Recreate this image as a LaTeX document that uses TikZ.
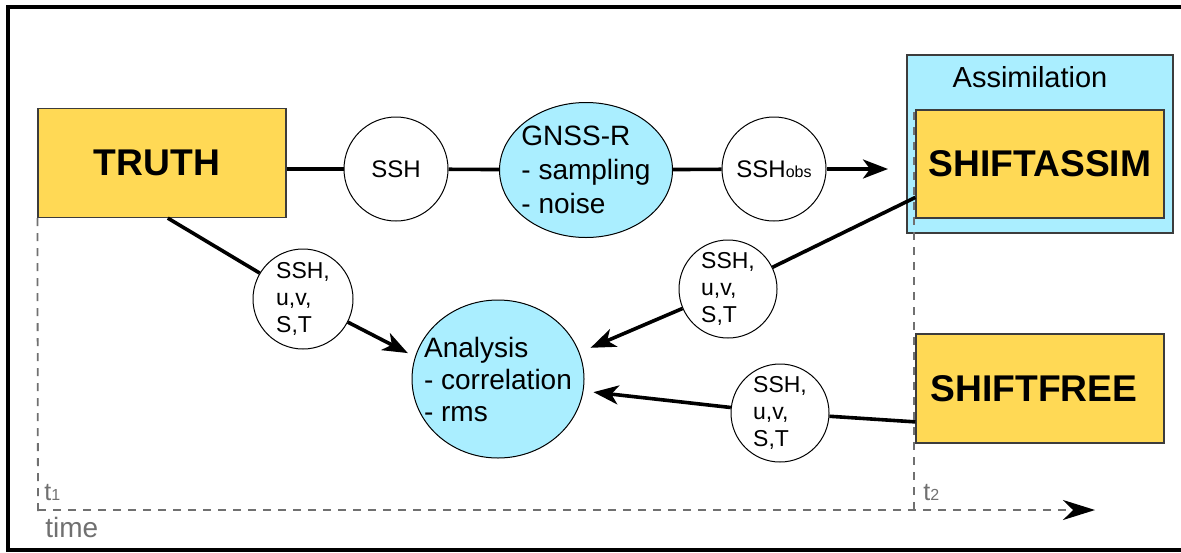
\documentclass[tikz,border=0pt]{standalone}
\usepackage{fontspec}
\setmainfont{Liberation Sans}
\usetikzlibrary{arrows.meta,shapes.geometric}
\definecolor{boxyellow}{RGB}{255,217,85}
\definecolor{lightblue}{RGB}{170,238,255}
\definecolor{axisgray}{RGB}{112,112,112}
\definecolor{edgegray}{RGB}{60,60,60}
\begin{document}
\begin{tikzpicture}[x=0.5pt,y=-0.5pt,
  modelbox/.style={draw=edgegray, line width=0.6pt, fill=boxyellow, minimum width=124pt, minimum height=54.5pt, inner sep=0pt, font=\fontsize{18.6}{20}\selectfont\bfseries},
  varcircle/.style={circle, draw=black, line width=0.5pt, fill=white, minimum size=49pt, inner sep=0pt, align=left, font=\fontsize{11.5}{13.5}\selectfont},
  procell/.style={ellipse, draw=black, line width=0.5pt, fill=lightblue, inner xsep=-10pt, inner ysep=-3pt, align=left},
  conn/.style={line width=1.8pt, black},
  arr/.style={conn, -{Stealth[length=12.5pt,width=9.5pt,inset=3.5pt]}},
  axis/.style={axisgray, line width=0.9pt, dash pattern=on 4pt off 3.5pt},
  axislabel/.style={text=axisgray, anchor=base west, inner sep=0pt, font=\fontsize{12.5}{14}\selectfont}
]
\useasboundingbox (0,0) rectangle (1181,552);
\draw[line width=2pt] (1190,6.5) -- (7.5,6.5) -- (7.5,549.5) -- (1190,549.5);

% boxes
\node[draw=edgegray, line width=0.6pt, fill=lightblue, minimum width=133pt, minimum height=89pt, inner sep=0pt] (assim) at (1040,144) {};
\node[anchor=base, inner sep=0pt, font=\fontsize{14.5}{16}\selectfont] (assimlabel) at (1030,87) {Assimilation};
\node[modelbox] (truth) at (162,163) {\hspace*{-5pt}TRUTH};
\node[modelbox, minimum height=54pt] (sa) at (1040,164) {SHIFTASSIM\rule{0pt}{0pt}};
\node[modelbox] (sf) at (1040,388.5) {\hspace*{-6pt}SHIFTFREE};

% circles and ellipses
\node[varcircle, minimum size=52pt, font=\fontsize{12}{14}\selectfont] (ssh) at (396,169) {SSH};
\node[procell, minimum width=86.5pt, minimum height=67.5pt, font=\fontsize{14}{17}\selectfont] (gnss) at (586,170) {GNSS-R\\- sampling\\- noise};
\node[varcircle, minimum size=52pt, font=\fontsize{12}{14}\selectfont] (obs) at (774,169) {SSH{\fontsize{8}{9}\selectfont obs}};
\node[varcircle, minimum size=50pt] (c1) at (303,299) {SSH,\\u,v,\\S,T};
\node[varcircle] (c2) at (728,289) {SSH,\\u,v,\\S,T};
\node[varcircle] (c3) at (780,413) {SSH,\\u,v,\\S,T};
\node[procell, minimum width=86pt, minimum height=79pt, font=\fontsize{14}{16}\selectfont] (ana) at (498,379) {Analysis\\- correlation\\- rms};

% connectors
\coordinate (obsend) at (888,169);
\draw[conn] (truth.east |- ssh) -- (ssh);
\draw[conn] (ssh) -- (gnss);
\draw[conn] (gnss) -- (obs);
\draw[arr] (obs) -- (obsend);
\draw[conn] (truth.-84) -- (c1);
\draw[arr, shorten >=4pt] (c1) -- (ana.165);
\draw[conn] (sa.195) -- (c2);
\draw[arr, shorten >=6pt] (c2) -- (ana.18);
\draw[conn] (sf.195) -- (c3);
\draw[arr, shorten >=5pt] (c3) -- (ana.-8);

% time axis
\coordinate (t1bot) at (38,515);
\coordinate (t2top) at (914,112);
\coordinate (t2bot) at (914,515);
\coordinate (tstart) at (38,510);
\coordinate (tend) at (1095,510);
\draw[axis] (truth.south west) -- (t1bot);
\draw[axis] (t2top) -- (t2bot);
\draw[axis, -{Stealth[black,length=16pt,width=10pt,inset=5pt]}] (tstart) -- (tend);
\node[axislabel] (t1) at (44,500) {t{\fontsize{8}{9}\selectfont 1}};
\node[axislabel] (t2) at (923,500) {t{\fontsize{8}{9}\selectfont 2}};
\node[axislabel, font=\fontsize{14}{16}\selectfont] (timelabel) at (45,537) {time};
\end{tikzpicture}
\end{document}
